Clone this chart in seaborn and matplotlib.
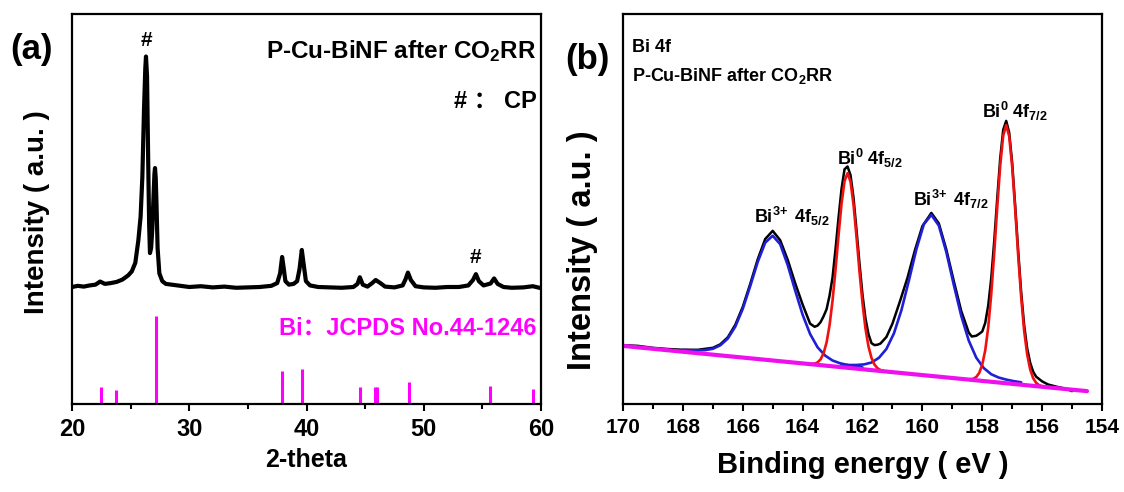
import numpy as np
import pandas as pd
import matplotlib
matplotlib.use("Agg")
import matplotlib.pyplot as plt
from matplotlib.ticker import MultipleLocator
import seaborn as sns

# ---------------- (a) XRD ----------------
xrd_2theta = [20.0, 20.5, 21.0, 21.5, 22.0, 22.4, 22.8, 23.3, 23.8, 24.3, 24.8, 25.1, 25.4,
              25.66, 25.85, 26.0, 26.14, 26.25, 26.31, 26.4, 26.5, 26.58, 26.65, 26.75,
              26.85, 26.95, 27.03, 27.08, 27.14, 27.2, 27.3, 27.45, 27.7, 28.0, 28.5, 29.0,
              30.0, 31.0, 32.0, 33.0, 34.0, 35.0, 36.0, 37.0, 37.5, 37.75, 37.92, 38.05,
              38.2, 38.5, 38.9, 39.2, 39.4, 39.6, 39.75, 39.95, 40.3, 41.0, 42.0, 43.0,
              44.0, 44.35, 44.55, 44.8, 45.2, 45.6, 45.9, 46.3, 46.7, 47.5, 48.2, 48.45,
              48.65, 48.9, 49.3, 50.0, 51.0, 52.0, 53.0, 53.8, 54.2, 54.45, 54.7, 55.1,
              55.7, 56.0, 56.3, 56.8, 57.5, 58.5, 59.3, 60.0]
xrd_int = [30.0, 30.3, 30.1, 30.4, 30.6, 31.4, 30.8, 31.0, 31.3, 31.9, 33.0, 34.0, 36.2,
           42.0, 48.0, 58.2, 75.4, 86.0, 89.1, 84.0, 62.0, 46.0, 38.7, 40.0,
           45.0, 53.0, 59.0, 60.5, 58.0, 52.0, 40.0, 33.5, 31.5, 30.8, 30.6, 30.4,
           30.0, 30.2, 29.9, 30.1, 29.8, 29.9, 30.0, 30.3, 31.0, 33.5, 37.7, 35.0,
           31.5, 30.6, 30.8, 31.5, 34.5, 39.5, 36.0, 31.5, 30.4, 30.0, 29.9, 29.8,
           30.0, 30.8, 32.5, 30.6, 30.1, 31.0, 31.8, 31.0, 30.1, 29.9, 30.4, 32.0,
           33.7, 31.8, 30.2, 29.9, 29.8, 30.0, 30.0, 30.4, 31.8, 33.3, 31.5, 30.4,
           30.9, 32.2, 30.8, 30.0, 29.8, 29.9, 30.2, 29.7]

ref_2theta = [22.45, 23.75, 27.16, 37.95, 39.62, 44.55, 45.86, 46.03, 48.70, 55.65, 59.33]
ref_int = [4.3, 3.6, 22.6, 8.5, 8.9, 4.3, 4.4, 4.4, 5.7, 4.6, 3.8]

# ---------------- (b) XPS Bi 4f ----------------
bg_be = [170.0, 154.5]
bg_int = [14.9, 3.3]

env_be = [170.0, 169.5, 169.0, 168.5, 168.0, 167.5, 167.0, 166.75, 166.5, 166.25, 166.0,
          165.75, 165.5, 165.25, 165.0, 164.75, 164.5, 164.25, 164.0, 163.75, 163.6,
          163.5, 163.4, 163.3, 163.2, 163.1, 163.0, 162.9, 162.8, 162.7, 162.6, 162.5,
          162.4, 162.3, 162.2, 162.1, 162.0, 161.9, 161.8, 161.7, 161.6, 161.5, 161.4,
          161.2, 161.0, 160.75, 160.5, 160.25, 160.0, 159.7, 159.45, 159.2, 158.95,
          158.7, 158.45, 158.35, 158.2, 158.1, 158.0, 157.9, 157.8, 157.7, 157.6, 157.5,
          157.4, 157.3, 157.2, 157.1, 157.0, 156.9, 156.8, 156.7, 156.6, 156.5, 156.4,
          156.3, 156.2, 156.0, 155.8, 155.5, 155.2, 155.0]
env_int = [15.1, 14.9, 14.4, 14.1, 13.9, 13.9, 14.4, 15.3, 17.1, 20.3, 24.9,
           30.8, 37.1, 42.3, 44.4, 42.0, 37.0, 31.0, 25.5, 20.6, 19.8,
           20.1, 21.0, 22.5, 24.3, 27.8, 32.5, 39.8, 47.8, 55.2, 60.2, 60.9,
           58.7, 52.9, 44.6, 36.0, 28.0, 21.9, 17.9, 15.6, 15.1, 15.2, 15.5,
           17.2, 20.6, 26.3, 32.3, 39.4, 45.6, 49.0, 46.3, 39.6, 31.5,
           23.8, 18.3, 17.3, 17.5, 18.0, 18.6, 20.8, 25.3, 32.2, 41.8, 52.7,
           63.0, 70.3, 72.6, 69.6, 61.8, 50.9, 39.3, 28.7, 20.2, 14.3, 10.6,
           8.3, 7.0, 5.8, 5.0, 4.4, 3.9, 3.3]

bi3_52_be = [168.0, 167.75, 167.5, 167.25, 167.0, 166.75, 166.5, 166.25, 166.0, 165.75,
             165.5, 165.25, 165.0, 164.75, 164.5, 164.25, 164.0, 163.75, 163.5, 163.25,
             163.0, 162.75, 162.5, 162.25, 162.0]
bi3_52_int = [13.88, 13.79, 13.76, 13.83, 14.15, 15.05, 16.78, 19.83, 24.38, 30.24,
              36.42, 41.36, 43.15, 40.98, 35.67, 29.12, 22.88, 17.95, 14.53, 12.43,
              11.15, 10.45, 10.01, 9.67, 9.38]

bi3_72_be = [162.7, 162.45, 162.2, 161.95, 161.7, 161.45, 161.2, 160.95, 160.7, 160.45,
             160.2, 159.95, 159.7, 159.45, 159.2, 158.95, 158.7, 158.45, 158.2, 157.95,
             157.7, 157.45, 157.2, 156.95, 156.7]
bi3_72_int = [10.05, 9.99, 10.01, 10.15, 10.63, 11.85, 14.13, 18.11, 24.05, 31.66,
              39.69, 46.11, 48.49, 45.74, 38.94, 30.53, 22.55, 16.24, 11.88, 9.22,
              7.63, 6.78, 6.26, 5.86, 5.56]

bi0_52_be = [163.7, 163.6, 163.5, 163.4, 163.3, 163.2, 163.1, 163.0, 162.9, 162.8, 162.7,
             162.6, 162.5, 162.4, 162.3, 162.2, 162.1, 162.0, 161.9, 161.8, 161.7, 161.6,
             161.5, 161.4, 161.3]
bi0_52_int = [10.28, 10.35, 10.68, 11.45, 13.02, 15.79, 20.21, 26.57, 34.53, 43.28, 51.40,
              57.15, 59.18, 57.01, 51.10, 42.84, 33.93, 25.83, 19.31, 14.75, 11.82, 10.11,
              9.18, 8.71, 8.48]

bi0_72_be = [158.4, 158.3, 158.2, 158.1, 158.0, 157.9, 157.8, 157.7, 157.6, 157.5, 157.4,
             157.3, 157.2, 157.1, 157.0, 156.9, 156.8, 156.7, 156.6, 156.5, 156.4, 156.3,
             156.2, 156.1, 156.0]
bi0_72_int = [6.35, 6.47, 6.93, 7.98, 10.09, 13.78, 19.67, 28.13, 38.72, 50.36, 61.14,
              68.81, 71.52, 68.66, 60.84, 49.91, 38.12, 27.38, 18.77, 12.73, 8.89, 6.63,
              5.43, 4.82, 4.55]

sns.set_style("ticks")
plt.rcParams['font.family'] = ['Liberation Sans', 'Noto Sans CJK SC', 'DejaVu Sans']
plt.rcParams['font.weight'] = 'bold'
plt.rcParams['axes.labelweight'] = 'bold'
plt.rcParams['text.color'] = 'black'
plt.rcParams['axes.labelcolor'] = 'black'
plt.rcParams['xtick.color'] = 'black'
plt.rcParams['mathtext.fontset'] = 'custom'
plt.rcParams['mathtext.rm'] = 'Liberation Sans:bold'
plt.rcParams['mathtext.bf'] = 'Liberation Sans:bold'
plt.rcParams['mathtext.it'] = 'Liberation Sans:bold'
plt.rcParams['mathtext.default'] = 'bf'

fig = plt.figure(figsize=(11.24, 4.92), dpi=100)
ax1 = fig.add_axes([72 / 1124, 1 - 404 / 492, 469 / 1124, 390 / 492])
ax2 = fig.add_axes([623 / 1124, 1 - 404 / 492, 479 / 1124, 390 / 492])

for ax in (ax1, ax2):
    for s in ax.spines.values():
        s.set_linewidth(1.6)
        s.set_color('black')
    ax.set_yticks([])
    ax.tick_params(axis='x', which='major', direction='out', length=5, width=1.5)
    ax.tick_params(axis='x', which='minor', direction='out', length=3.5, width=1.5)

# panel a
df_xrd = pd.DataFrame({'two_theta': xrd_2theta, 'intensity': xrd_int})
sns.lineplot(data=df_xrd, x='two_theta', y='intensity', color='black', linewidth=3.0,
             sort=False, ax=ax1)
ax1.vlines(ref_2theta, 0, ref_int, colors='#ff00ff', linewidth=2.2)
ax1.set_xlim(20, 60)
ax1.set_ylim(0, 100)
ax1.xaxis.set_major_locator(MultipleLocator(10))
ax1.xaxis.set_minor_locator(MultipleLocator(5))
ax1.tick_params(axis='x', labelsize=17, pad=5)
ax1.set_xlabel('2-theta', fontsize=18, labelpad=5)
ax1.set_ylabel('')

ax1.text(26.35, 93.3, '#', ha='center', va='center', fontsize=15)
ax1.text(54.45, 37.5, '#', ha='center', va='center', fontsize=15)
ax1.text(59.6, 90.5, 'P-Cu-BiNF after CO$_2$RR', ha='right', va='center', fontsize=17.5)
ax1.text(59.6, 77.5, '# ： CP', ha='right', va='center', fontsize=17)
ax1.text(59.6, 19.5, 'Bi：JCPDS No.44-1246', ha='right', va='center', fontsize=17,
         color='#ff00ff')

# panel b
df_env = pd.DataFrame({'be': env_be, 'intensity': env_int})
sns.lineplot(data=df_env, x='be', y='intensity', color='black', linewidth=1.8,
             sort=False, ax=ax2)
for be, val in [(bi3_52_be, bi3_52_int), (bi3_72_be, bi3_72_int)]:
    sns.lineplot(x=be, y=val, color='#1f1fd6', linewidth=1.9, sort=False, ax=ax2)
for be, val in [(bi0_52_be, bi0_52_int), (bi0_72_be, bi0_72_int)]:
    sns.lineplot(x=be, y=val, color='#f01010', linewidth=1.9, sort=False, ax=ax2)
sns.lineplot(x=bg_be, y=bg_int, color='#ee11ee', linewidth=3.0, sort=False, ax=ax2)

ax2.set_xlim(170, 154)
ax2.set_ylim(0, 100)
ax2.xaxis.set_major_locator(MultipleLocator(2))
ax2.xaxis.set_minor_locator(MultipleLocator(1))
ax2.tick_params(axis='x', labelsize=15, pad=5)
ax2.set_xlabel('Binding energy ( eV )', fontsize=21, labelpad=10)
ax2.set_ylabel('')

ax2.text(169.7, 91.5, 'Bi 4f', ha='left', va='center', fontsize=13)
ax2.text(169.7, 84.0, 'P-Cu-BiNF after CO$_2$RR', ha='left', va='center', fontsize=13)
ax2.text(164.36, 48.0, r'Bi$^{3\!+}$ 4f$_{5/2}$', ha='center', va='center', fontsize=13)
ax2.text(161.75, 63.0, r'Bi$^{0}$ 4f$_{5/2}$', ha='center', va='center', fontsize=13)
ax2.text(159.05, 52.5, r'Bi$^{3\!+}$ 4f$_{7/2}$', ha='center', va='center', fontsize=13)
ax2.text(156.9, 75.0, r'Bi$^{0}$ 4f$_{7/2}$', ha='center', va='center', fontsize=13)

# axis titles for intensity, placed on the figure
fig.text(37 / 1124, 1 - 212 / 492, 'Intensity ( a.u. )', rotation=90, fontsize=20,
         ha='center', va='center')
fig.text(582 / 1124, 1 - 250 / 492, 'Intensity ( a.u. )', rotation=90, fontsize=23.5,
         ha='center', va='center')

fig.text(10 / 1124, 1 - 50 / 492, '(a)', fontsize=25, ha='left', va='center')
fig.text(565 / 1124, 1 - 60 / 492, '(b)', fontsize=25, ha='left', va='center')

fig.savefig('out.png', dpi=100)
